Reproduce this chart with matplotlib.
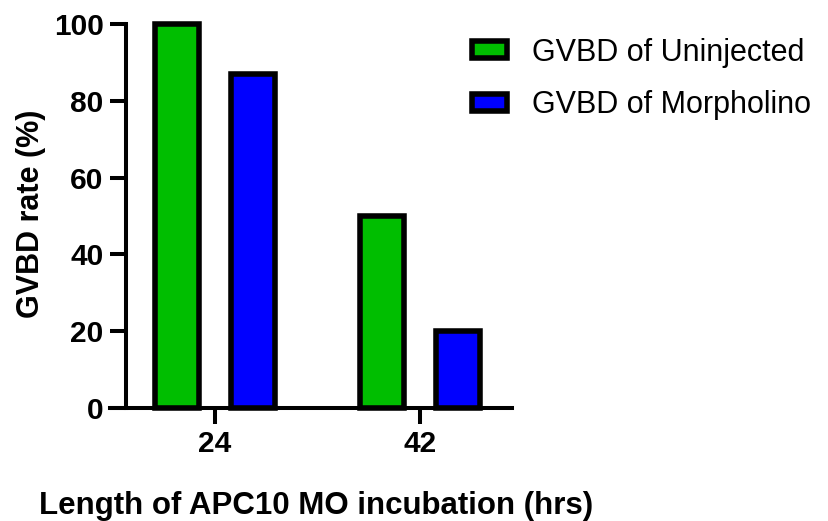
import matplotlib
matplotlib.use("Agg")
import matplotlib.pyplot as plt
import numpy as np

# Data
categories = ["24", "42"]
uninjected = [100, 50]
morpholino = [87, 20]
series_labels = ["GVBD of Uninjected", "GVBD of Morpholino"]
yticks = [0, 20, 40, 60, 80, 100]

green = "#00BE00"
blue = "#0000FF"

plt.rcParams["font.family"] = ["Liberation Sans", "DejaVu Sans"]

fig = plt.figure(figsize=(8.29, 5.21), dpi=100)
ax = fig.add_axes([110 / 829, 113 / 521, 402 / 829, 384 / 521])

x = np.arange(len(categories))
width = 0.215
offset = 0.187
lw = 4.0

b1 = ax.bar(x - offset, uninjected, width, color=green, edgecolor="black",
            linewidth=lw, label=series_labels[0], clip_on=False, zorder=3)
b2 = ax.bar(x + offset, morpholino, width, color=blue, edgecolor="black",
            linewidth=lw, label=series_labels[1], clip_on=False, zorder=3)

ax.set_xlim(-0.512, 1.449)
ax.set_ylim(0, 100)
ax.set_xticks(x)
ax.set_xticklabels(categories)
ax.set_yticks(yticks)

for s in ["top", "right"]:
    ax.spines[s].set_visible(False)
# y axis sits slightly inside the left end of the x axis line
ax.spines["left"].set_position(("outward", -11.5))
ax.spines["left"].set_linewidth(2.9)
ax.spines["bottom"].set_linewidth(2.9)
ax.spines["left"].set_zorder(4)
ax.spines["bottom"].set_zorder(4)

ax.tick_params(axis="both", width=2.9, length=11.5, labelsize=21.5)
ax.tick_params(axis="y", pad=4.5)
ax.tick_params(axis="x", pad=4)
for lab in ax.get_xticklabels() + ax.get_yticklabels():
    lab.set_fontweight("bold")

ax.set_ylabel("GVBD rate (%)", fontsize=22, fontweight="bold")
ax.set_xlabel("Length of APC10 MO incubation (hrs)", fontsize=22.5, fontweight="bold")
ax.yaxis.set_label_coords(-0.16, 0.505)
ax.xaxis.set_label_coords(0.512, -0.216)

leg = fig.legend(handles=[b1, b2], loc="upper left",
                 bbox_to_anchor=(472 / 829, 1 - 37.5 / 521),
                 frameon=False, fontsize=22, handlelength=1.15,
                 handleheight=0.5, handletextpad=0.8, labelspacing=0.75,
                 borderpad=0, borderaxespad=0)
for h in leg.legend_handles:
    h.set_linewidth(lw)

fig.savefig("out.png", dpi=100)
